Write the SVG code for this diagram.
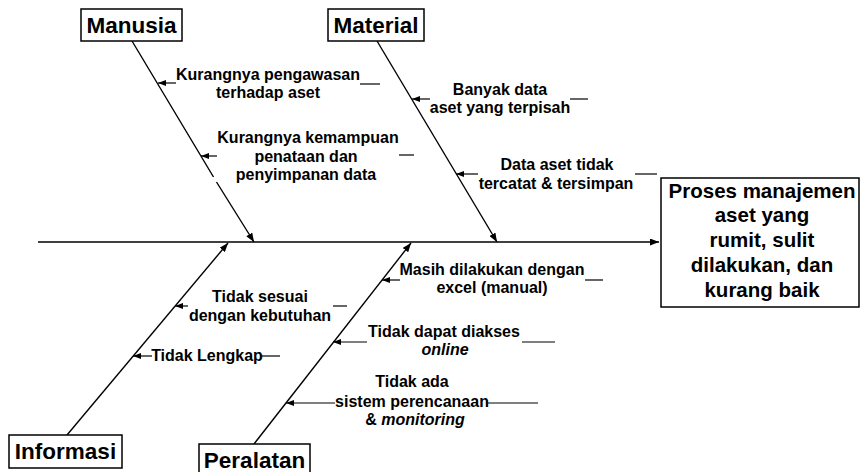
<svg xmlns="http://www.w3.org/2000/svg" width="860" height="472" viewBox="0 0 860 472">
<style>
.t{font-family:"Liberation Sans",Arial,sans-serif;font-weight:bold;fill:#000}
.h{font-size:22.5px;text-anchor:middle}
.l{font-size:16px;text-anchor:middle}
.e{font-size:20.5px;text-anchor:middle}
.box{fill:#fff;stroke:#000;stroke-width:1.5}
.ln{stroke:#000;stroke-width:1.4;fill:none}
.d{stroke:#000;stroke-width:1.2;fill:none}
</style>
<defs>
<marker id="ah" markerUnits="userSpaceOnUse" markerWidth="9" markerHeight="7" refX="9" refY="3.5" orient="auto">
<path d="M0,0 L9,3.5 L0,7 z" fill="#000"/>
</marker>
<marker id="sa" markerUnits="userSpaceOnUse" markerWidth="8" markerHeight="6" refX="8" refY="3" orient="auto">
<path d="M0,0 L8,3 L0,6 z" fill="#000"/>
</marker>
</defs>
<rect width="860" height="472" fill="#fff"/>
<g id="connectors">
<line class="ln" x1="38" y1="242" x2="659" y2="242" marker-end="url(#ah)"/>
<path class="ln" d="M132,41 L213.5,177 M216.5,182 L254,242" marker-end="url(#ah)"/>
<line class="ln" x1="377" y1="41" x2="497" y2="242" marker-end="url(#ah)"/>
<line class="ln" x1="67" y1="435" x2="228" y2="243" marker-end="url(#ah)"/>
<line class="ln" x1="254" y1="444" x2="411" y2="243" marker-end="url(#ah)"/>
<line class="d" x1="176" y1="83" x2="158" y2="83" marker-end="url(#sa)"/>
<line class="d" x1="360" y1="84" x2="380" y2="84"/>
<line class="d" x1="217" y1="156" x2="201" y2="156" marker-end="url(#sa)"/>
<line class="d" x1="399" y1="155" x2="414" y2="155"/>
<line class="d" x1="430" y1="99" x2="412" y2="99" marker-end="url(#sa)"/>
<line class="d" x1="570" y1="99" x2="588" y2="99"/>
<line class="d" x1="478" y1="174" x2="456" y2="174" marker-end="url(#sa)"/>
<line class="d" x1="635" y1="174" x2="657" y2="174"/>
<line class="d" x1="188" y1="306" x2="175" y2="306" marker-end="url(#sa)"/>
<line class="d" x1="333" y1="306" x2="347" y2="306"/>
<line class="d" x1="152" y1="356" x2="133" y2="356" marker-end="url(#sa)"/>
<line class="d" x1="262" y1="356" x2="280" y2="356"/>
<line class="d" x1="400" y1="280" x2="382" y2="280" marker-end="url(#sa)"/>
<line class="d" x1="585" y1="280" x2="603" y2="280"/>
<line class="d" x1="367" y1="342" x2="333" y2="342" marker-end="url(#sa)"/>
<line class="d" x1="522" y1="342" x2="555" y2="342"/>
<line class="d" x1="335" y1="403" x2="286" y2="403" marker-end="url(#sa)"/>
<line class="d" x1="488" y1="403" x2="538" y2="403"/>
</g>
<g id="manusia">
<rect class="box" x="81" y="9" width="101" height="32"/>
<text class="t h" x="131.5" y="32.5">Manusia</text>
</g>
<g id="material">
<rect class="box" x="328" y="9" width="96" height="32"/>
<text class="t h" x="376" y="32.5">Material</text>
</g>
<g id="informasi">
<rect class="box" x="9" y="435" width="113" height="33"/>
<text class="t h" x="65.5" y="458.5">Informasi</text>
</g>
<g id="peralatan">
<rect class="box" x="199" y="444" width="111" height="40"/>
<text class="t h" x="254.5" y="467.5">Peralatan</text>
</g>
<g id="effect">
<rect class="box" x="661" y="178" width="198" height="129"/>
<text class="t e" x="762" y="198">Proses manajemen</text>
<text class="t e" x="762" y="222">aset yang</text>
<text class="t e" x="762" y="247">rumit, sulit</text>
<text class="t e" x="762" y="272">dilakukan, dan</text>
<text class="t e" x="762" y="297">kurang baik</text>
</g>
<g id="cause-pengawasan">
<text class="t l" x="268" y="80">Kurangnya pengawasan</text>
<text class="t l" x="268" y="98">terhadap aset</text>
</g>
<g id="cause-kemampuan">
<text class="t l" x="308" y="143">Kurangnya kemampuan</text>
<text class="t l" x="306" y="162">penataan dan</text>
<text class="t l" x="306" y="180">penyimpanan data</text>
</g>
<g id="cause-terpisah">
<text class="t l" x="500" y="95">Banyak data</text>
<text class="t l" x="500" y="113">aset yang terpisah</text>
</g>
<g id="cause-tercatat">
<text class="t l" x="557" y="170">Data aset tidak</text>
<text class="t l" x="556" y="189">tercatat &amp; tersimpan</text>
</g>
<g id="cause-sesuai">
<text class="t l" x="260" y="302">Tidak sesuai</text>
<text class="t l" x="260" y="321">dengan kebutuhan</text>
</g>
<g id="cause-lengkap">
<text class="t l" x="207" y="361">Tidak Lengkap</text>
</g>
<g id="cause-excel">
<text class="t l" x="492" y="275">Masih dilakukan dengan</text>
<text class="t l" x="492" y="293">excel (manual)</text>
</g>
<g id="cause-online">
<text class="t l" x="444" y="337">Tidak dapat diakses</text>
<text class="t l" x="445" y="355" font-style="italic">online</text>
</g>
<g id="cause-perencanaan">
<text class="t l" x="412" y="387">Tidak ada</text>
<text class="t l" x="412" y="407">sistem perencanaan</text>
<text class="t l" x="415" y="425">&amp; <tspan font-style="italic">monitoring</tspan></text>
</g>
</svg>
